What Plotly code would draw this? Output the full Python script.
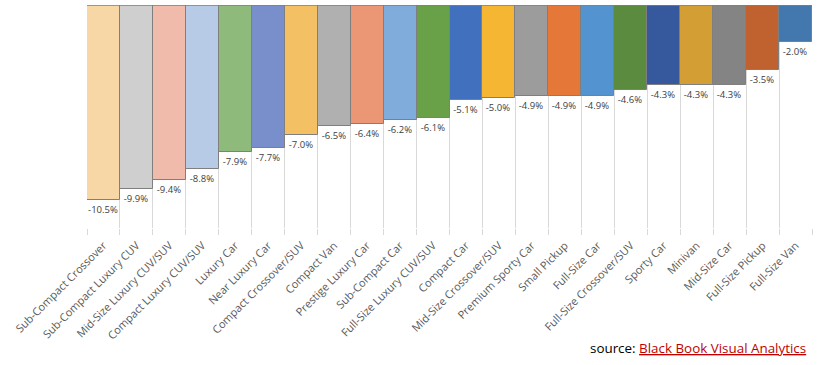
import plotly.graph_objects as go

categories = ["Sub-Compact Crossover", "Sub-Compact Luxury CUV", "Mid-Size Luxury CUV/SUV",
              "Compact Luxury CUV/SUV", "Luxury Car", "Near Luxury Car", "Compact Crossover/SUV",
              "Compact Van", "Prestige Luxury Car", "Sub-Compact Car", "Full-Size Luxury CUV/SUV",
              "Compact Car", "Mid-Size Crossover/SUV", "Premium Sporty Car", "Small Pickup",
              "Full-Size Car", "Full-Size Crossover/SUV", "Sporty Car", "Minivan", "Mid-Size Car",
              "Full-Size Pickup", "Full-Size Van"]
values = [-10.5, -9.9, -9.4, -8.8, -7.9, -7.7, -7.0, -6.5, -6.4, -6.2, -6.1,
          -5.1, -5.0, -4.9, -4.9, -4.9, -4.6, -4.3, -4.3, -4.3, -3.5, -2.0]
colors = ["#F8D7A7", "#CFCFCF", "#F0BBAB", "#B7CBE6", "#8EBA7B", "#788FCC", "#F3C163",
          "#B0B0B0", "#EB9675", "#80ACDC", "#68A148", "#4170BF", "#F5B733", "#9C9C9C",
          "#E57838", "#5393CF", "#5A8B3E", "#36599E", "#D39F35", "#848484", "#C0622F", "#4278AD"]
labels = [f"{v:.1f}%" for v in values]

label_font = dict(family="Open Sans", size=9.5, color="#404040")

fig = go.Figure(go.Bar(
    x=categories, y=values,
    marker=dict(color=colors, line=dict(color="#7F7F7F", width=1)),
    text=labels, textposition="outside",
    textfont=label_font, outsidetextfont=label_font,
    cliponaxis=False, width=1.0,
))

fig.update_layout(
    width=817, height=365,
    margin=dict(l=87, r=5, t=5, b=137, autoexpand=False),
    paper_bgcolor="white", plot_bgcolor="white",
    showlegend=False, bargap=0,
    font=dict(family="Open Sans"),
    xaxis=dict(
        tickangle=-45, tickson="boundaries", showgrid=True, gridcolor="#D9D9D9",
        ticks="outside", ticklen=6, tickcolor="#D9D9D9", ticklabelstandoff=8,
        tickfont=dict(family="Open Sans", size=11, color="#595959"),
        showline=False, zeroline=False, fixedrange=True, automargin=False,
    ),
    yaxis=dict(
        range=[-12, 0], visible=False, showgrid=False, zeroline=False, automargin=False,
    ),
    shapes=[dict(type="line", xref="paper", yref="y", x0=0, x1=1, y0=0, y1=0,
                 line=dict(color="#7F7F7F", width=1.5))],
    annotations=[dict(
        xref="paper", yref="paper", x=0.9945, y=-0.538, xanchor="right", yanchor="middle",
        text="source: <span style='color:#C00000;text-decoration:underline'>Black Book Visual Analytics</span>",
        showarrow=False, font=dict(family="Open Sans", size=13.4, color="black"),
    )],
)

fig.write_html("out.html", config={"displayModeBar": False},
               post_script="document.body.style.margin='0';document.body.style.overflow='hidden';")
